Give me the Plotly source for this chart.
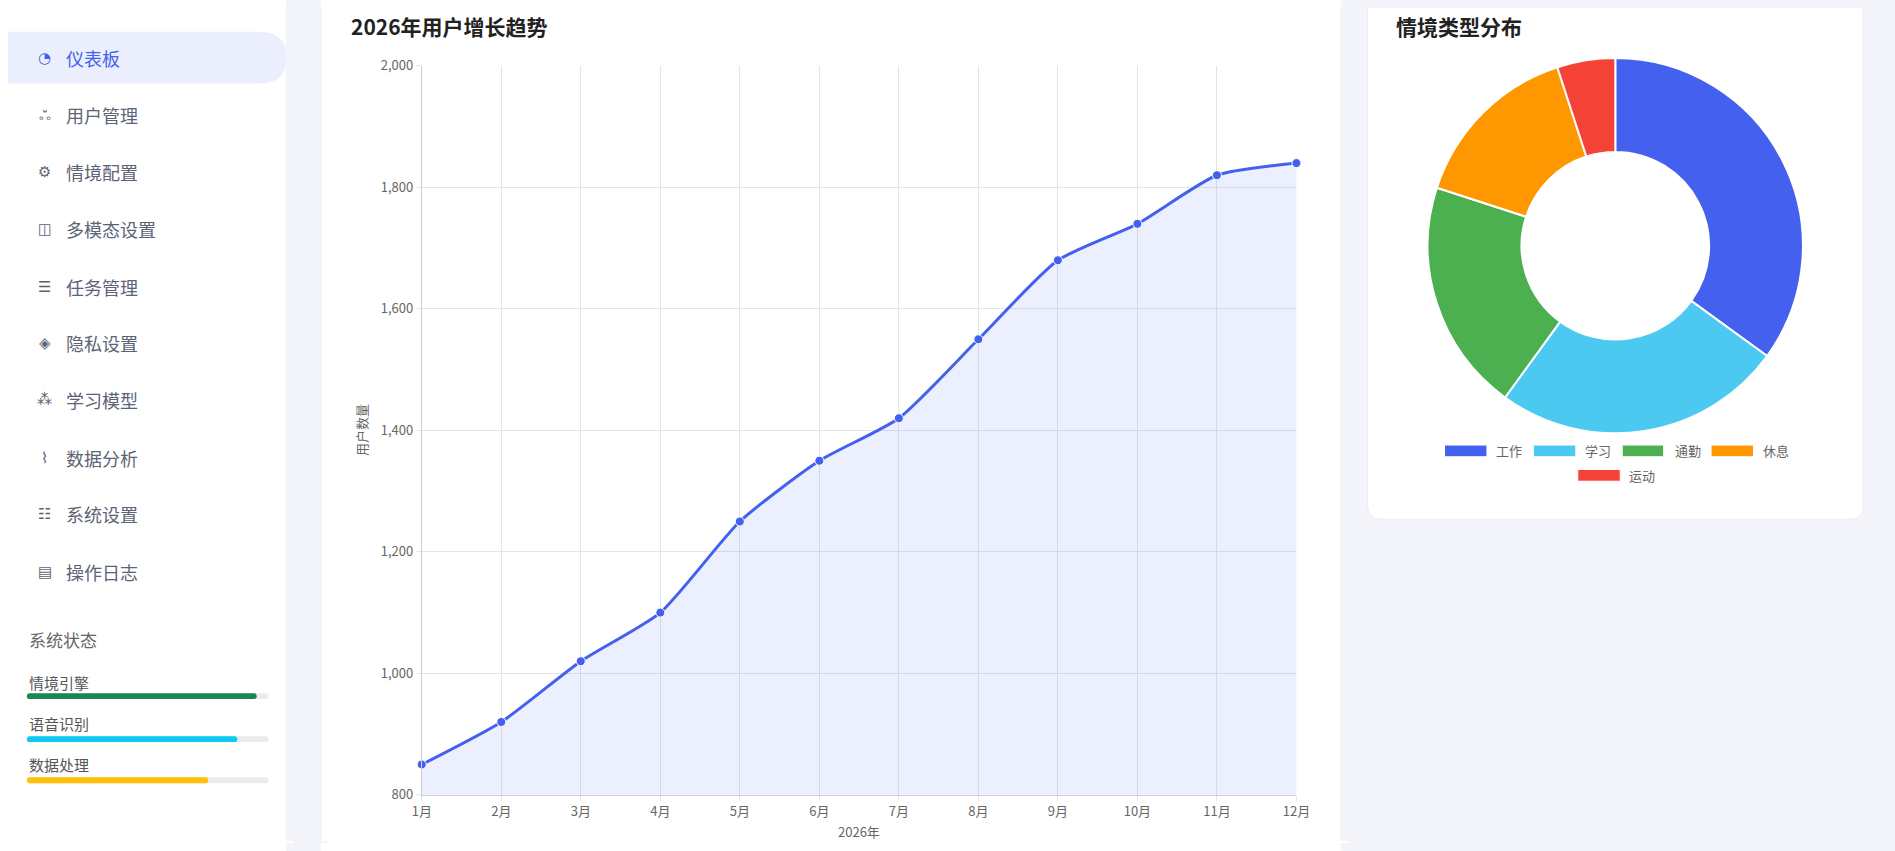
import plotly.graph_objects as go

W, H = 1895, 851          # reference canvas
OFF = 9                   # page margin around the figure
FW, FH = W - 2 * OFF, H - 2 * OFF
months = ["1月","2月","3月","4月","5月","6月","7月","8月","9月","10月","11月","12月"]
users = [850, 920, 1020, 1100, 1250, 1350, 1420, 1550, 1680, 1740, 1820, 1840]
y_ticks = [800, 1000, 1200, 1400, 1600, 1800, 2000]
scene_labels = ["工作", "学习", "通勤", "休息", "运动"]
scene_values = [35, 25, 20, 15, 5]
scene_colors = ["#4361ee", "#4cc9f0", "#4caf50", "#ff9800", "#f44336"]
menu_items = ["仪表板","用户管理","情境配置","多模态设置","任务管理","隐私设置","学习模型","数据分析","系统设置","操作日志"]
menu_icons = ["◔","ஃ","⚙","◫","☰","◈","⁂","⌇","☷","▤"]
status_labels = ["情境引擎", "语音识别", "数据处理"]
status_values = [95, 87, 75]
status_colors = ["#198754", "#0dcaf0", "#ffc107"]

FONT = "Noto Sans CJK SC"
def px(x): return (x - OFF) / FW
def py(y): return 1 - (y - OFF) / FH

fig = go.Figure()
fig.add_trace(go.Scatter(
    x=months, y=users, mode="lines+markers",
    line=dict(color="#4361ee", width=3, shape="spline", smoothing=0.6),
    marker=dict(size=9, color="#4361ee", line=dict(color="white", width=1)),
    fill="tozeroy", fillcolor="rgba(67,97,238,0.1)",
    xaxis="x", yaxis="y", showlegend=False, hoverinfo="skip", cliponaxis=False))
fig.add_trace(go.Pie(
    labels=scene_labels, values=scene_values, hole=0.5, sort=False,
    direction="clockwise", rotation=0,
    marker=dict(colors=scene_colors, line=dict(color="white", width=2)),
    textinfo="none", showlegend=False, hoverinfo="skip",
    domain=dict(x=[px(1435), px(1819)], y=[py(434), py(50)])))

def rrect(x0, y0, x1, y1, r):
    return (f"M {px(x0+r)} {py(y0)} L {px(x1-r)} {py(y0)} Q {px(x1)} {py(y0)} {px(x1)} {py(y0+r)} "
            f"L {px(x1)} {py(y1-r)} Q {px(x1)} {py(y1)} {px(x1-r)} {py(y1)} L {px(x0+r)} {py(y1)} "
            f"Q {px(x0)} {py(y1)} {px(x0)} {py(y1-r)} L {px(x0)} {py(y0+r)} Q {px(x0)} {py(y0)} {px(x0+r)} {py(y0)} Z")
shapes = []
shapes.append(dict(type="rect", xref="paper", yref="paper", x0=-0.01, x1=px(280), y0=-0.02, y1=1.02,
                   fillcolor="white", line_width=0, layer="below"))
shapes.append(dict(type="path", xref="paper", yref="paper", path=rrect(317, -30, 1348, 900, 14),
                   fillcolor="white", line_width=0, layer="below"))
shapes.append(dict(type="path", xref="paper", yref="paper", path=rrect(1376, -30, 1878, 522, 14),
                   fillcolor="white", line=dict(color="#eceef4", width=1), layer="below"))
shapes.append(dict(type="path", xref="paper", yref="paper",
                   path=f"M {px(-5)} {py(23)} L {px(254)} {py(23)} Q {px(281)} {py(23)} {px(281)} {py(50)} "
                        f"Q {px(281)} {py(76)} {px(254)} {py(76)} L {px(-5)} {py(76)} Z",
                   fillcolor="#ebeffd", line_width=0, layer="below"))
ann = []
ann.append(dict(text="<b>2026年用户增长趋势</b>", x=px(344), y=py(17), xanchor="left", yanchor="middle",
                font=dict(size=21, color="#222")))
ann.append(dict(text="<b>情境类型分布</b>", x=px(1403), y=py(17), xanchor="left", yanchor="middle",
                font=dict(size=21, color="#222")))
menu_y = [50,108,167,225,284,342,400,459,517,576]
for i, (lab, ic) in enumerate(zip(menu_items, menu_icons)):
    c = "#4361ee" if i == 0 else "#5b6475"
    ann.append(dict(text=ic, x=px(36), y=py(menu_y[i]), xanchor="center", yanchor="middle",
                    font=dict(size=15, color=c, family="DejaVu Sans")))
    ann.append(dict(text=lab, x=px(56), y=py(menu_y[i]), xanchor="left", yanchor="middle",
                    font=dict(size=18, color=c)))
ann.append(dict(text="系统状态", x=px(18), y=py(645), xanchor="left", yanchor="middle",
                font=dict(size=17, color="#666")))
lab_y = [689, 731, 773]
bar_y = [703, 747, 789]
for lab, v, c, ly, by in zip(status_labels, status_values, status_colors, lab_y, bar_y):
    ann.append(dict(text=lab, x=px(18), y=py(ly), xanchor="left", yanchor="middle",
                    font=dict(size=15, color="#555")))
    shapes.append(dict(type="path", xref="paper", yref="paper", path=rrect(18, by-3, 263, by+3, 3),
                       fillcolor="#e9ecef", line_width=0))
    shapes.append(dict(type="path", xref="paper", yref="paper",
                       path=rrect(18, by-3, 18 + 245*v/100, by+3, 3), fillcolor=c, line_width=0))
leg = [(1454,1497,1504,452),(1544,1587,1594,452),(1634,1676,1685,452),(1724,1767,1775,452),(1589,1632,1639,477)]
for (x0,x1,tx,cy), lab, c in zip(leg, scene_labels, scene_colors):
    shapes.append(dict(type="rect", xref="paper", yref="paper", x0=px(x0), x1=px(x1),
                       y0=py(cy+6), y1=py(cy-6), fillcolor=c, line=dict(color="white", width=1)))
    ann.append(dict(text=lab, x=px(tx), y=py(cy), xanchor="left", yanchor="middle",
                    font=dict(size=13, color="#666")))
ann.append(dict(text="用户数量", x=px(357), y=py(431), textangle=-90, xanchor="center", yanchor="middle",
                font=dict(size=13, color="#666")))
ann.append(dict(text="2026年", x=px(861), y=py(841), xanchor="center", yanchor="middle",
                font=dict(size=13, color="#666")))
for a in ann:
    a.update(xref="paper", yref="paper", showarrow=False)

fig.update_layout(
    width=FW, height=FH, margin=dict(l=0, r=0, t=0, b=0),
    paper_bgcolor="#f4f5fa", plot_bgcolor="rgba(0,0,0,0)",
    font=dict(family=FONT, color="#666", size=13),
    shapes=shapes, annotations=ann, hovermode=False,
    xaxis=dict(domain=[px(418), px(1304)], range=[0, 11], showgrid=True, gridcolor="#e5e5e5",
               showline=True, linecolor="#ccc", ticks="outside", ticklen=5, tickcolor="#e5e5e5",
               tickfont=dict(size=13, color="#666"), fixedrange=True),
    yaxis=dict(domain=[py(804), py(58)], range=[800, 2000], tickvals=y_ticks, tickformat=",",
               showgrid=True, gridcolor="#e5e5e5", showline=True, linecolor="#ccc",
               ticks="outside", ticklen=5, tickcolor="#e5e5e5", zeroline=False,
               tickfont=dict(size=13, color="#666")),
)
js = ("var bg='linear-gradient(to right,#fff 0,#fff 286px,#f4f5fa 286px,#f4f5fa 321px,#fff 321px,#fff 1341px,#f4f5fa 1341px)';"
      "document.body.style.background=bg;document.documentElement.style.background=bg;")
fig.write_html("out.html", post_script=js, config={"displayModeBar": False})
